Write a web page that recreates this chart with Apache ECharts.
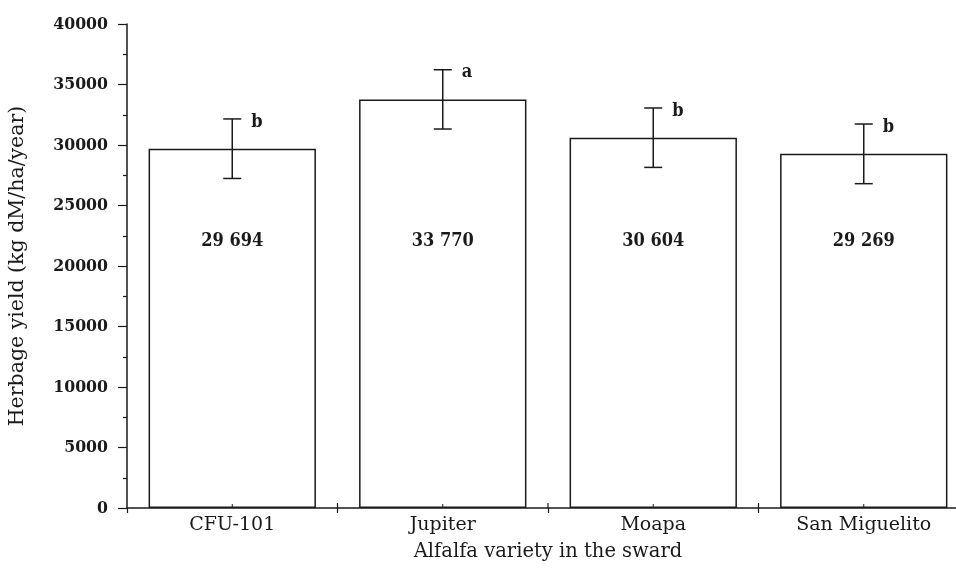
<!DOCTYPE html>
<html>
<head>
<meta charset="utf-8">
<script src="https://cdn.jsdelivr.net/npm/echarts@6/dist/echarts.min.js"></script>
<style>
  html, body { margin: 0; padding: 0; background: #fff; }
  #chart { width: 956px; height: 568px; }
</style>
</head>
<body>
<div id="chart"></div>
<script>
// ---- Data ----
const categories = ['CFU-101', 'Jupiter', 'Moapa', 'San Miguelito'];
const yieldMeans = [29694, 33770, 30604, 29269];
const yieldErrors = [2460, 2450, 2455, 2465];
const groupLetters = ['b', 'a', 'b', 'b'];
const valueLabels = ['29 694', '33 770', '30 604', '29 269'];
const yMin = 0;
const yMax = 40000;
const yInterval = 5000;
const labelLevel = 22000; // y value at which the mean is printed inside the bars

const INK = '#1a1a1a';
const SERIF = '"DejaVu Serif", "Liberation Serif", serif';
const NUMFONT = '"DejaVu Serif Condensed", "DejaVu Serif", serif';

const chart = echarts.init(document.getElementById('chart'), null, { renderer: 'canvas' });

const customData = categories.map((c, i) => [i, yieldMeans[i], yieldErrors[i]]);

const option = {
  backgroundColor: '#fff',
  animation: false,
  grid: { left: 127, right: -13, top: 24, bottom: 60, outerBoundsMode: 'none', containLabel: false },
  xAxis: {
    type: 'category',
    data: categories,
    position: 'bottom',
    boundaryGap: true,
    axisLine: { show: true, lineStyle: { color: INK, width: 1.5 } },
    axisTick: { show: true, length: 5, lineStyle: { color: INK, width: 1.2 } },
    axisLabel: { show: true, color: INK, fontFamily: SERIF, fontSize: 19, margin: 8 },
    splitLine: { show: false },
    name: 'Alfalfa variety in the sward',
    nameLocation: 'middle',
    nameGap: 34,
    nameTextStyle: { color: INK, fontFamily: SERIF, fontSize: 19.5 }
  },
  yAxis: {
    type: 'value',
    min: yMin,
    max: yMax,
    interval: yInterval,
    axisLine: { show: true, lineStyle: { color: INK, width: 1.5 } },
    axisTick: { show: true, length: 9, lineStyle: { color: INK, width: 1.2 } },
    minorTick: { show: true, splitNumber: 2, length: 4, lineStyle: { color: INK, width: 1.2 } },
    splitLine: { show: false },
    axisLabel: {
      color: INK, fontFamily: NUMFONT, fontWeight: 'bold', fontSize: 17.5, margin: 19,
      formatter: function (v) { return String(v); }
    },
    name: 'Herbage yield (kg dM/ha/year)',
    nameLocation: 'middle',
    nameGap: 99,
    nameTextStyle: { color: INK, fontFamily: SERIF, fontSize: 20.5 }
  },
  series: [
    {
      type: 'bar',
      data: yieldMeans,
      barWidth: '79.5%',
      itemStyle: { color: '#ffffff', borderColor: INK, borderWidth: 1.5 },
      silent: true
    },
    {
      type: 'custom',
      data: customData,
      z: 5,
      silent: true,
      clip: false,
      renderItem: function (params, api) {
        const i = api.value(0);
        const m = api.value(1);
        const e = api.value(2);
        const letter = groupLetters[params.dataIndex];
        const lbl = valueLabels[params.dataIndex];
        const top = api.coord([i, m + e]);
        const bot = api.coord([i, m - e]);
        const mid = api.coord([i, labelLevel]);
        const base = api.coord([i, yMin]);
        const bandW = api.size([1, 0])[0];
        const half = 9;
        const ls = { stroke: INK, lineWidth: 1.5 };
        const ts = { stroke: INK, lineWidth: 1.2 };
        const children = [
          { type: 'line', shape: { x1: top[0], y1: top[1], x2: bot[0], y2: bot[1] }, style: ls },
          { type: 'line', shape: { x1: top[0] - half, y1: top[1], x2: top[0] + half, y2: top[1] }, style: ls },
          { type: 'line', shape: { x1: bot[0] - half, y1: bot[1], x2: bot[0] + half, y2: bot[1] }, style: ls },
          // small upward tick at category centre
          { type: 'line', shape: { x1: base[0], y1: base[1], x2: base[0], y2: base[1] - 4 }, style: { stroke: INK, lineWidth: 1 } },
          // upward half of boundary tick
          { type: 'line', shape: { x1: base[0] + bandW / 2, y1: base[1], x2: base[0] + bandW / 2, y2: base[1] - 5 }, style: ts },
          {
            type: 'text',
            style: {
              text: letter, x: top[0] + 19, y: top[1] + 3,
              fill: INK, font: 'bold 18px ' + NUMFONT,
              textAlign: 'left', textVerticalAlign: 'middle', align: 'left', verticalAlign: 'middle'
            }
          },
          {
            type: 'text',
            style: {
              text: lbl, x: mid[0], y: mid[1],
              fill: INK, font: 'bold 18px ' + NUMFONT,
              textAlign: 'center', textVerticalAlign: 'middle', align: 'center', verticalAlign: 'middle'
            }
          }
        ];
        return { type: 'group', children: children };
      }
    }
  ]
};

chart.setOption(option);
</script>
</body>
</html>
